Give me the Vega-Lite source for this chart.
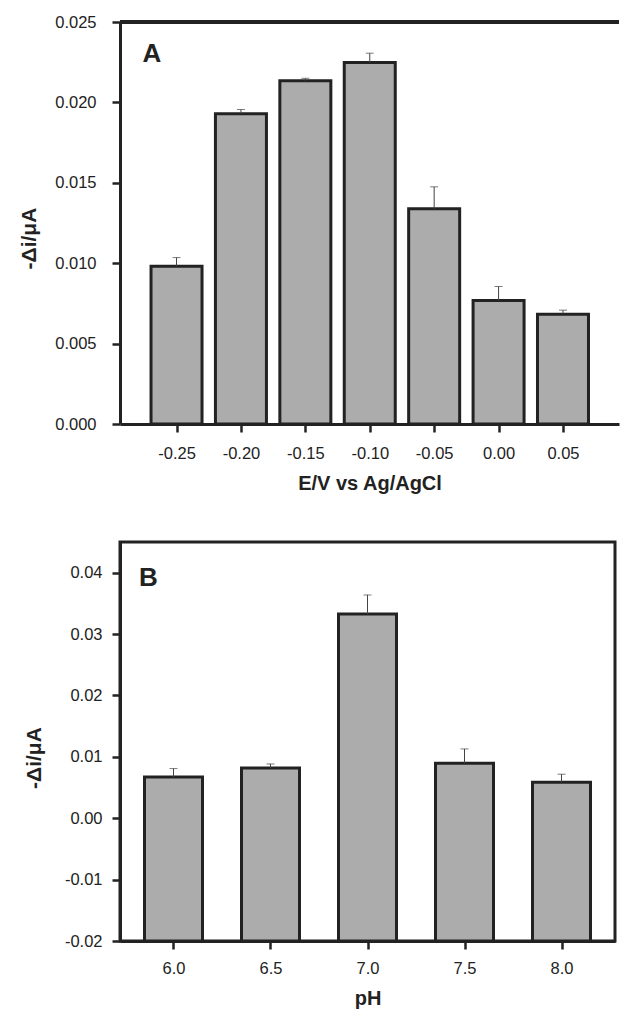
{
  "$schema": "https://vega.github.io/schema/vega-lite/v6.json",
  "padding": {"left": 18, "top": 14, "right": 0, "bottom": 0},
  "background": "white",
  "config": {
    "font": "Liberation Sans",
    "view": {"stroke": null},
    "axis": {
      "labelFont": "Liberation Sans", "labelFontSize": 16.5, "labelColor": "#222",
      "titleFont": "Liberation Sans", "titleFontSize": 20, "titleFontWeight": "bold", "titleColor": "#222",
      "domainColor": "#222", "domainWidth": 3, "tickColor": "#222", "tickWidth": 2.5, "tickSize": 8,
      "grid": false, "labelFlush": false, "labelOverlap": false
    }
  },
  "spacing": 47,
  "vconcat": [
    {
      "width": 499, "height": 402,
      "data": {"values": [
        {"E": -0.25, "di": 0.00981, "upper": 0.01035},
        {"E": -0.20, "di": 0.01929, "upper": 0.01956},
        {"E": -0.15, "di": 0.02134, "upper": 0.0215},
        {"E": -0.10, "di": 0.02248, "upper": 0.02306},
        {"E": -0.05, "di": 0.01338, "upper": 0.01475},
        {"E": 0.00, "di": 0.00768, "upper": 0.00855},
        {"E": 0.05, "di": 0.00683, "upper": 0.00708}
      ]},
      "layer": [
        {
          "mark": {"type": "bar", "orient": "vertical", "width": 51, "fill": "#acacac", "stroke": "#222", "strokeWidth": 3},
          "encoding": {
            "x": {"field": "E", "type": "quantitative",
              "scale": {"domain": [-0.29, 0.0896], "nice": false, "zero": false},
              "axis": {"title": "E/V vs Ag/AgCl", "values": [-0.25, -0.2, -0.15, -0.1, -0.05, 0, 0.05],
                "labelExpr": "replace(format(datum.value, '.2f'), '\u2212', '-')",
                "labelPadding": 13, "titlePadding": 11.5}},
            "y": {"field": "di", "type": "quantitative",
              "scale": {"domain": [0, 0.025], "nice": false},
              "axis": {"title": "-Δi/μA", "values": [0, 0.005, 0.01, 0.015, 0.02, 0.025], "format": ".3f",
                "labelPadding": 16, "titlePadding": 15, "titleFontSize": 21, "titleY": 216}},
            "y2": {"datum": 0}
          }
        },
        {
          "mark": {"type": "rule", "color": "#444", "strokeWidth": 1},
          "encoding": {
            "x": {"field": "E", "type": "quantitative"},
            "y": {"field": "di", "type": "quantitative"},
            "y2": {"field": "upper"}
          }
        },
        {
          "mark": {"type": "tick", "orient": "horizontal", "color": "#444", "size": 8, "thickness": 1},
          "encoding": {
            "x": {"field": "E", "type": "quantitative"},
            "y": {"field": "upper", "type": "quantitative"}
          }
        },
        {
          "mark": {"type": "rule", "color": "#222", "strokeWidth": 3},
          "encoding": {"y": {"datum": 0.025, "type": "quantitative"}}
        },
        {
          "data": {"values": [{"label": "A"}]},
          "mark": {"type": "text", "fontSize": 26, "fontWeight": "bold", "align": "left", "baseline": "alphabetic", "color": "#222"},
          "encoding": {
            "x": {"datum": -0.2765, "type": "quantitative"},
            "y": {"datum": 0.0225, "type": "quantitative"},
            "text": {"field": "label"}
          }
        }
      ]
    },
    {
      "width": 495, "height": 399,
      "view": {"stroke": "#222", "strokeWidth": 3},
      "data": {"values": [
        {"pH": 6.0, "di": 0.00673, "upper": 0.00809},
        {"pH": 6.5, "di": 0.00819, "upper": 0.00884},
        {"pH": 7.0, "di": 0.03327, "upper": 0.03637},
        {"pH": 7.5, "di": 0.00896, "upper": 0.01129},
        {"pH": 8.0, "di": 0.00586, "upper": 0.00717}
      ]},
      "layer": [
        {
          "mark": {"type": "bar", "orient": "vertical", "width": 58, "fill": "#acacac", "stroke": "#222", "strokeWidth": 3},
          "encoding": {
            "x": {"field": "pH", "type": "quantitative",
              "scale": {"domain": [5.75, 8.25], "nice": false, "zero": false},
              "axis": {"title": "pH", "values": [6, 6.5, 7, 7.5, 8], "format": ".1f",
                "labelPadding": 11, "titlePadding": 12}},
            "y": {"field": "di", "type": "quantitative",
              "scale": {"domain": [-0.02, 0.045], "nice": false, "zero": false},
              "axis": {"title": "-Δi/μA", "values": [-0.02, -0.01, 0, 0.01, 0.02, 0.03, 0.04],
                "labelExpr": "replace(format(datum.value, '.2f'), '\u2212', '-')",
                "labelPadding": 10, "titlePadding": 19.5, "titleFontSize": 21, "titleY": 215.5}},
            "y2": {"datum": -0.02}
          }
        },
        {
          "mark": {"type": "rule", "color": "#444", "strokeWidth": 1},
          "encoding": {
            "x": {"field": "pH", "type": "quantitative"},
            "y": {"field": "di", "type": "quantitative"},
            "y2": {"field": "upper"}
          }
        },
        {
          "mark": {"type": "tick", "orient": "horizontal", "color": "#444", "size": 8, "thickness": 1},
          "encoding": {
            "x": {"field": "pH", "type": "quantitative"},
            "y": {"field": "upper", "type": "quantitative"}
          }
        },
        {
          "data": {"values": [{"label": "B"}]},
          "mark": {"type": "text", "fontSize": 26, "fontWeight": "bold", "align": "left", "baseline": "alphabetic", "color": "#222"},
          "encoding": {
            "x": {"datum": 5.8216, "type": "quantitative"},
            "y": {"datum": 0.0378, "type": "quantitative"},
            "text": {"field": "label"}
          }
        }
      ]
    }
  ]
}
